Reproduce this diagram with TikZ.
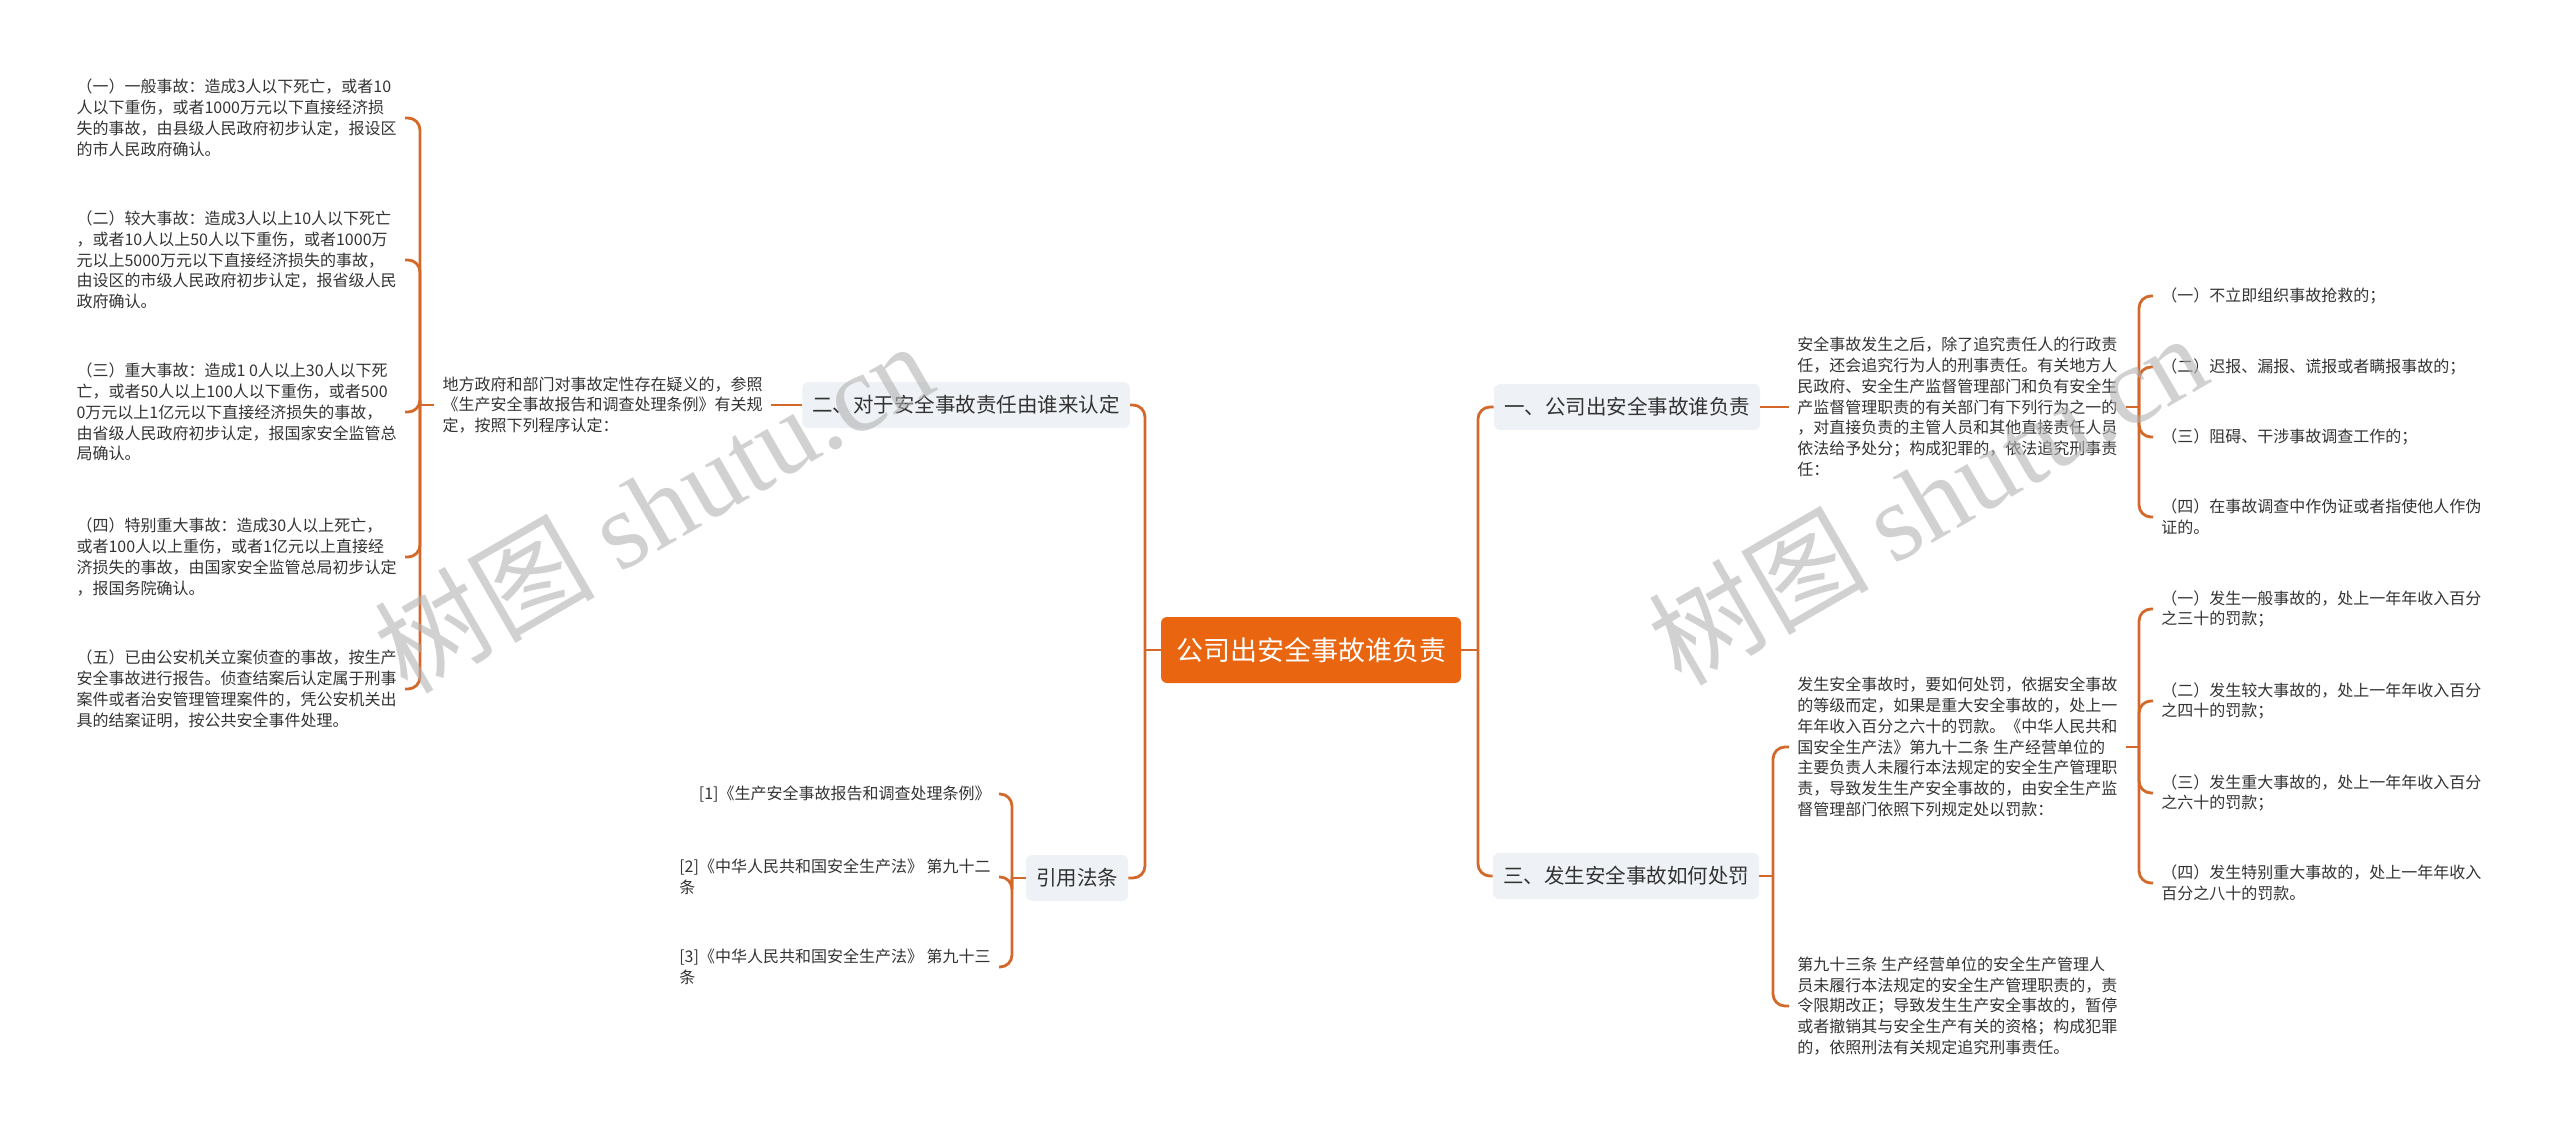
\documentclass[tikz,border=0pt]{standalone}
\usepackage{fontspec}
\setmainfont{Noto Sans CJK SC}
\newfontfamily\wmlatin{Liberation Serif}
\usepackage{xcolor}
\definecolor{linkc}{HTML}{D2692A}
\definecolor{rootc}{HTML}{E9650F}
\definecolor{boxc}{HTML}{EEF1F5}
\definecolor{txtc}{HTML}{333333}

\begin{document}
\begin{tikzpicture}[x=0.5pt, y=-0.5pt,
  root/.style={fill=rootc, text=white, rounded corners=3pt, minimum width=150pt,
    minimum height=33pt, font=\fontsize{13.5}{16}\selectfont},
  branch/.style={fill=boxc, text=txtc, rounded corners=3pt, minimum height=23pt,
    inner xsep=5pt, font=\fontsize{10.25}{12}\selectfont},
  leaf/.style={text=txtc, align=left, inner sep=4pt, font=\fontsize{8}{10.4}\selectfont},
  link/.style={draw=linkc, line width=1.4pt, rounded corners=6pt},
  wmtext/.style={text=black!30, opacity=0.6, font=\fontsize{55}{60}\selectfont}]
  \useasboundingbox (0,0) rectangle (2560,1134);

  % centre and main branches
  \node[root] (root) at (1311,650) {公司出安全事故谁负责};
  \node[branch] (b1) at (1627,407) {一、公司出安全事故谁负责};
  \node[branch] (b3) at (1626,876) {三、发生安全事故如何处罚};
  \node[branch] (b2) at (966,405) {二、对于安全事故责任由谁来认定};
  \node[branch] (refs) at (1077,878) {引用法条};

  \coordinate (jr) at (1478,650);
  \coordinate (jl) at (1145,650);
  \draw[link] (root.east) -- (jr);
  \draw[link] (root.west) -- (jl);
  \draw[link] (jr) |- (b1.west);
  \draw[link] (jr) |- (b3.west);
  \draw[link] (jl) |- (b2.east);
  \draw[link] (jl) |- (refs.east);

  % branch one
  \node[leaf, anchor=west] (t1) at (1789,407) {安全事故发生之后，除了追究责任人的行政责\\任，还会追究行为人的刑事责任。有关地方人\\民政府、安全生产监督管理部门和负有安全生\\产监督管理职责的有关部门有下列行为之一的\\，对直接负责的主管人员和其他直接责任人员\\依法给予处分；构成犯罪的，依法追究刑事责\\任：};
  \node[leaf, anchor=west] (r11) at (2153,296) {（一）不立即组织事故抢救的；};
  \node[leaf, anchor=west] (r12) at (2153,367) {（二）迟报、漏报、谎报或者瞒报事故的；};
  \node[leaf, anchor=west] (r13) at (2153,437) {（三）阻碍、干涉事故调查工作的；};
  \node[leaf, anchor=west] (r14) at (2153,517) {（四）在事故调查中作伪证或者指使他人作伪\\证的。};
  \coordinate (j1) at (2139,407);
  \draw[link] (b1.east) -- (t1.west);
  \draw[link] (t1.east) -- (j1);
  \foreach \n in {r11,r12,r13,r14}
    \draw[link] (j1) |- (\n.west);

  % branch three
  \node[leaf, anchor=west] (t3a) at (1789,747) {发生安全事故时，要如何处罚，依据安全事故\\的等级而定，如果是重大安全事故的，处上一\\年年收入百分之六十的罚款。《中华人民共和\\国安全生产法》第九十二条 生产经营单位的\\主要负责人未履行本法规定的安全生产管理职\\责，导致发生生产安全事故的，由安全生产监\\督管理部门依照下列规定处以罚款：};
  \node[leaf, anchor=west] (t3b) at (1789,1006) {第九十三条 生产经营单位的安全生产管理人\\员未履行本法规定的安全生产管理职责的，责\\令限期改正；导致发生生产安全事故的，暂停\\或者撤销其与安全生产有关的资格；构成犯罪\\的，依照刑法有关规定追究刑事责任。};
  \node[leaf, anchor=west] (r31) at (2153,609) {（一）发生一般事故的，处上一年年收入百分\\之三十的罚款；};
  \node[leaf, anchor=west] (r32) at (2153,701) {（二）发生较大事故的，处上一年年收入百分\\之四十的罚款；};
  \node[leaf, anchor=west] (r33) at (2153,793) {（三）发生重大事故的，处上一年年收入百分\\之六十的罚款；};
  \node[leaf, anchor=west] (r34) at (2153,883) {（四）发生特别重大事故的，处上一年年收入\\百分之八十的罚款。};
  \coordinate (j3) at (1773,876);
  \coordinate (j3a) at (2139,747);
  \draw[link] (b3.east) -- (j3);
  \draw[link] (j3) |- (t3a.west);
  \draw[link] (j3) |- (t3b.west);
  \draw[link] (t3a.east) -- (j3a);
  \foreach \n in {r31,r32,r33,r34}
    \draw[link] (j3a) |- (\n.west);

  % branch two
  \node[leaf, anchor=east] (t2) at (771,405) {地方政府和部门对事故定性存在疑义的，参照\\《生产安全事故报告和调查处理条例》有关规\\定，按照下列程序认定：};
  \node[leaf, anchor=east] (l1) at (405,118) {（一）一般事故：造成3人以下死亡，或者10\\人以下重伤，或者1000万元以下直接经济损\\失的事故，由县级人民政府初步认定，报设区\\的市人民政府确认。};
  \node[leaf, anchor=east] (l2) at (405,260) {（二）较大事故：造成3人以上10人以下死亡\\，或者10人以上50人以下重伤，或者1000万\\元以上5000万元以下直接经济损失的事故，\\由设区的市级人民政府初步认定，报省级人民\\政府确认。};
  \node[leaf, anchor=east] (l3) at (405,412) {（三）重大事故：造成1 0人以上30人以下死\\亡，或者50人以上100人以下重伤，或者500\\0万元以上1亿元以下直接经济损失的事故，\\由省级人民政府初步认定，报国家安全监管总\\局确认。};
  \node[leaf, anchor=east] (l4) at (405,557) {（四）特别重大事故：造成30人以上死亡，\\或者100人以上重伤，或者1亿元以上直接经\\济损失的事故，由国家安全监管总局初步认定\\，报国务院确认。};
  \node[leaf, anchor=east] (l5) at (405,689) {（五）已由公安机关立案侦查的事故，按生产\\安全事故进行报告。侦查结案后认定属于刑事\\案件或者治安管理管理案件的，凭公安机关出\\具的结案证明，按公共安全事件处理。};
  \coordinate (j2) at (420,405);
  \draw[link] (t2.east) -- (b2.west);
  \draw[link] (t2.west) -- (j2);
  \foreach \n in {l1,l2,l3,l4,l5}
    \draw[link] (j2) |- (\n.east);

  % cited laws
  \node[leaf, anchor=east] (f1) at (999,794) {[1]《生产安全事故报告和调查处理条例》};
  \node[leaf, anchor=east] (f2) at (999,877) {[2]《中华人民共和国安全生产法》 第九十二\\条};
  \node[leaf, anchor=east] (f3) at (999,967) {[3]《中华人民共和国安全生产法》 第九十三\\条};
  \coordinate (jf) at (1012,878);
  \draw[link] (refs.west) -- (jf);
  \foreach \n in {f1,f2,f3}
    \draw[link] (jf) |- (\n.east);

  % watermarks
  \node[wmtext, rotate=30] (wm1) at (653,506) {树图 {\wmlatin shutu.cn}};
  \node[wmtext, rotate=30] (wm2) at (1927,498) {树图 {\wmlatin shutu.cn}};
\end{tikzpicture}
\end{document}
